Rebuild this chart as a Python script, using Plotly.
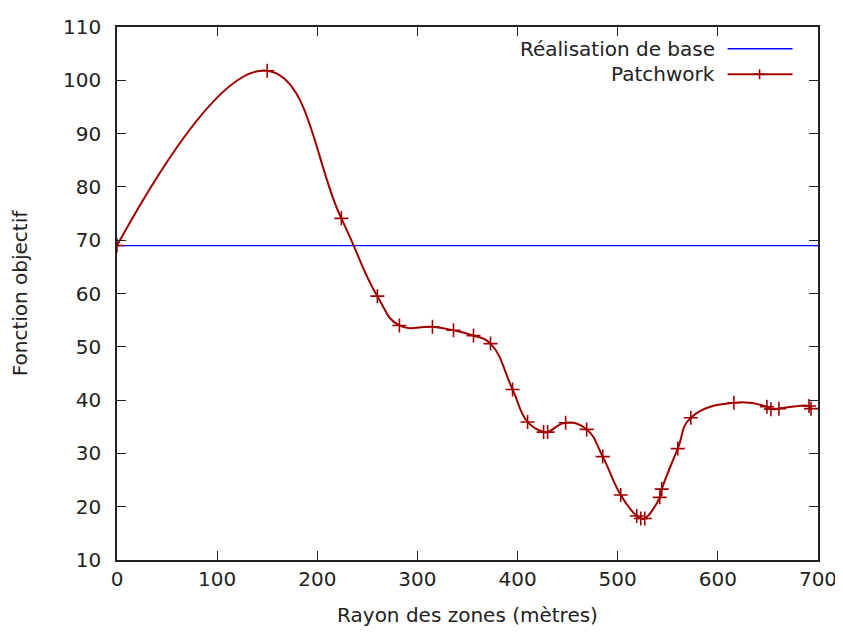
import plotly.graph_objects as go

# Data
rayon = [0, 150, 224, 260, 282, 315, 336, 356, 373, 395, 410, 426, 430, 448,
         469, 485, 503, 519, 523, 527, 542, 544, 560, 573, 616, 649, 653, 661, 691, 693]
patchwork = [69.0, 101.8, 74.1, 59.5, 54.0, 53.75, 53.1, 52.1, 50.6, 42.0, 35.9, 34.0, 34.0, 35.75,
             34.5, 29.4, 22.2, 18.25, 17.8, 17.8, 21.75, 23.3, 30.9, 36.7, 39.5, 38.75, 38.3, 38.4, 38.9, 38.4]
base_x = [0, 700]
base_y = [69.0, 69.0]

x_ticks = [0, 100, 200, 300, 400, 500, 600, 700]
y_ticks = [10, 20, 30, 40, 50, 60, 70, 80, 90, 100, 110]

RED = "#a00000"
BLUE = "#0000ff"
FONT = "DejaVu Sans"
FS = 20
TXT = "#222"

fig = go.Figure()
fig.add_trace(go.Scatter(x=base_x, y=base_y, mode="lines",
                         line=dict(color=BLUE, width=1.3), name="Réalisation de base",
                         showlegend=False))
fig.add_trace(go.Scatter(x=rayon, y=patchwork, mode="lines+markers",
                         line=dict(color=RED, width=2, shape="spline", smoothing=1.3),
                         marker=dict(symbol="cross-thin", size=10, line=dict(color=RED, width=1.6)),
                         name="Patchwork", showlegend=False, cliponaxis=True))

# plot area in window pixels (page body adds an 8px offset)
OFF = 8
L, R, T, B = 116.7, 818.5, 26.7, 560
W, H = 843 - OFF, 635 - 2 * OFF

def px(xp):
    return (xp - L) / (R - L)

def py(yp):
    return (B - yp) / (B - T)

shapes = []
annotations = []
legend = [("Réalisation de base", BLUE, 48.5, False), ("Patchwork", RED, 74, True)]
for label, col, yy, cross in legend:
    annotations.append(dict(x=px(717), y=py(yy), xref="paper", yref="paper", text=label,
                            showarrow=False, xanchor="right", yanchor="middle",
                            font=dict(family=FONT, size=FS, color=TXT)))
    shapes.append(dict(type="line", xref="paper", yref="paper", x0=px(728), x1=px(793),
                       y0=py(yy), y1=py(yy), line=dict(color=col, width=1.5 if not cross else 2)))
    if cross:
        shapes.append(dict(type="line", xref="paper", yref="paper", x0=px(755), x1=px(765),
                           y0=py(yy), y1=py(yy), line=dict(color=col, width=1.6)))
        shapes.append(dict(type="line", xref="paper", yref="paper", x0=px(760), x1=px(760),
                           y0=py(yy - 5), y1=py(yy + 5), line=dict(color=col, width=1.6)))

axis_common = dict(showline=True, mirror="allticks", ticks="inside", ticklen=9, tickwidth=1.3,
                   linecolor=TXT, linewidth=1.5, tickcolor=TXT, showgrid=False, zeroline=False,
                   automargin=False,
                   tickfont=dict(family=FONT, size=FS, color=TXT))

fig.update_layout(
    width=W, height=H,
    margin=dict(l=L - OFF, r=W - (R - OFF), t=T - OFF, b=H - (B - OFF)),
    plot_bgcolor="white", paper_bgcolor="white",
    xaxis=dict(range=[0, 700], tickvals=x_ticks, ticktext=[str(v) for v in x_ticks],
               title=dict(text="Rayon des zones (mètres)", font=dict(family=FONT, size=FS, color=TXT),
                          standoff=26),
               **axis_common),
    yaxis=dict(range=[10, 110], tickvals=y_ticks, ticktext=[str(v) for v in y_ticks],
               ticklabelstandoff=10,
               title=dict(text="Fonction objectif", font=dict(family=FONT, size=FS, color=TXT),
                          standoff=35),
               **axis_common),
    shapes=shapes, annotations=annotations,
)

fig.write_html("out.html")
